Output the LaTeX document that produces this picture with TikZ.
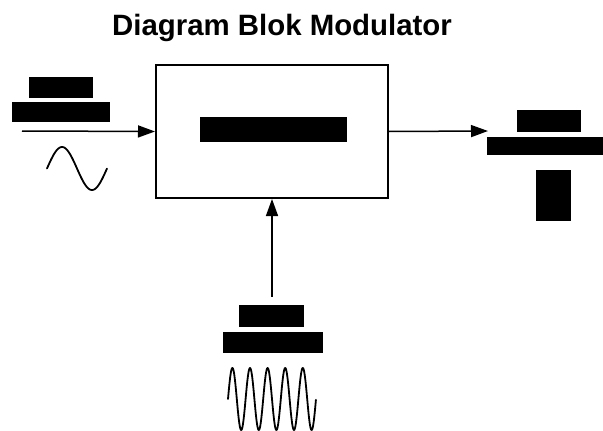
\documentclass[tikz,border=0pt]{standalone}
\usepackage{fontspec}
\setmainfont{Liberation Sans}
\usetikzlibrary{arrows.meta}
\begin{document}
\begin{tikzpicture}[x=1pt,y=-1pt,
  redact/.style={fill=black,draw=none,inner sep=0pt},
  blockbox/.style={draw=black,line width=2pt,fill=white,inner sep=0pt},
  arr/.style={line width=1.5pt,-{Triangle[length=17pt,width=12pt]}},
  wave/.style={line width=1.8pt,line join=round,line cap=round}]
\useasboundingbox (0,0) rectangle (603,431);
\node[anchor=base] (title) at (282,35) {\fontsize{29.4}{30}\selectfont\bfseries Diagram Blok Modulator};
\node[blockbox,minimum width=232pt,minimum height=133pt] (mod) at (272,131.5) {};
\node[redact,minimum width=147pt,minimum height=25pt] (inner) at (273.5,129.5) {};
% left input
\node[redact,minimum width=64pt,minimum height=21pt] (lu) at (61,87.5) {};
\node[redact,minimum width=98pt,minimum height=20pt] (ll) at (61,112) {};
\coordinate (inL) at (22,131);
\draw[arr] (inL) -- (mod.west);
\draw[wave] plot[domain=0:1,samples=80] ({47+60*\x},{168.5-21.5*sin(360*\x)});
% right output
\coordinate (outR) at (488,131);
\draw[arr] (mod.east) -- (outR);
\node[redact,minimum width=64pt,minimum height=22pt] (ru) at (549,121) {};
\node[redact,minimum width=116pt,minimum height=18pt] (rl) at (545,146) {};
\node[redact,minimum width=35pt,minimum height=51pt] (rt) at (553.5,195.5) {};
% bottom carrier
\node[redact,minimum width=65pt,minimum height=22pt] (bu) at (271.5,316) {};
\node[redact,minimum width=100pt,minimum height=21pt] (bl) at (273,342.5) {};
\draw[arr] ([yshift=8pt]bu.north -| mod.south) -- (mod.south);
\draw[wave] plot[domain=0:5,samples=300] ({228+17.6*\x},{399-31*sin(360*\x)});
\end{tikzpicture}
\end{document}
